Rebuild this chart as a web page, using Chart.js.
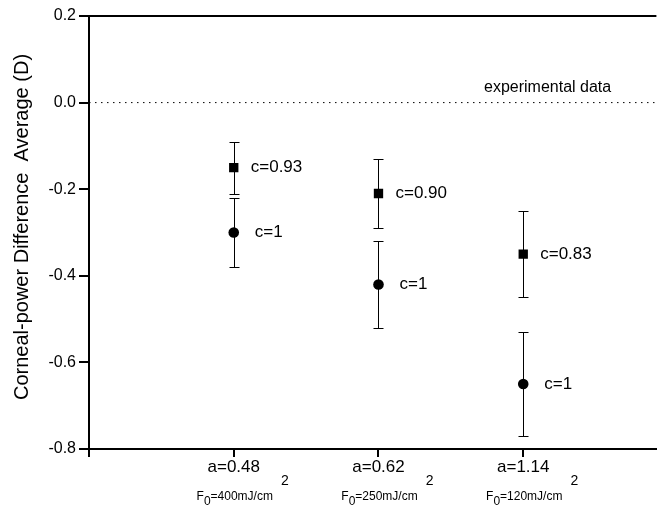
<!DOCTYPE html>
<html>
<head>
<meta charset="utf-8">
<script src="https://cdn.jsdelivr.net/npm/chart.js@4/dist/chart.umd.min.js"></script>
<style>
  html, body { margin: 0; padding: 0; background: #fff; }
  #wrap { width: 663px; height: 507px; position: relative; }
</style>
</head>
<body>
<div id="wrap"><canvas id="c" width="663" height="507"></canvas></div>
<script>
// ---- data ----
const categoryX = [1, 2, 3];
const topLabels = ['a=0.48', 'a=0.62', 'a=1.14'];
const fluenceValues = ['400', '250', '120'];
const squareValues = [-0.15, -0.21, -0.35];
const squareErrors = [0.06, 0.08, 0.10];
const squareLabels = ['c=0.93', 'c=0.90', 'c=0.83'];
const circleValues = [-0.30, -0.42, -0.65];
const circleErrors = [0.08, 0.10, 0.12];
const circleLabels = ['c=1', 'c=1', 'c=1'];
const referenceLineY = 0;
const referenceLabel = 'experimental data';
const yTitle = 'Corneal-power Difference  Average (D)';
const yMin = -0.8, yMax = 0.2, yStep = 0.2;
const xMin = 0, xMax = 3.92;

const FONT = '"Liberation Sans", Arial, Helvetica, sans-serif';

const squarePts = categoryX.map((x, i) => ({x, y: squareValues[i]}));
const circlePts = categoryX.map((x, i) => ({x, y: circleValues[i]}));

const decorPlugin = {
  id: 'decor',
  afterDatasetsDraw(chart) {
    const {ctx, chartArea, scales: {x, y}} = chart;
    ctx.save();
    // top frame line
    ctx.strokeStyle = '#000';
    ctx.lineWidth = 2;
    ctx.beginPath();
    ctx.moveTo(chartArea.left - 1, chartArea.top);
    ctx.lineTo(chartArea.right, chartArea.top);
    ctx.stroke();

    // error bars
    ctx.lineWidth = 1;
    const drawErr = (vals, errs) => {
      vals.forEach((v, i) => {
        const px = Math.round(x.getPixelForValue(categoryX[i])) + 0.5;
        const yt = Math.round(y.getPixelForValue(v + errs[i])) + 0.5;
        const yb = Math.round(y.getPixelForValue(v - errs[i])) + 0.5;
        ctx.beginPath();
        ctx.moveTo(px, yt); ctx.lineTo(px, yb);
        ctx.moveTo(px - 5, yt); ctx.lineTo(px + 5, yt);
        ctx.moveTo(px - 5, yb); ctx.lineTo(px + 5, yb);
        ctx.stroke();
      });
    };
    drawErr(squareValues, squareErrors);
    drawErr(circleValues, circleErrors);

    // point labels
    ctx.fillStyle = '#000';
    ctx.font = '17px ' + FONT;
    ctx.textBaseline = 'middle';
    ctx.textAlign = 'left';
    squareValues.forEach((v, i) => {
      ctx.fillText(squareLabels[i], x.getPixelForValue(categoryX[i]) + 17, y.getPixelForValue(v));
    });
    circleValues.forEach((v, i) => {
      ctx.fillText(circleLabels[i], x.getPixelForValue(categoryX[i]) + 21, y.getPixelForValue(v));
    });

    // reference label
    ctx.font = '16px ' + FONT;
    ctx.textBaseline = 'alphabetic';
    ctx.fillText(referenceLabel, 484, y.getPixelForValue(referenceLineY) - 11);

    // y title
    ctx.save();
    ctx.font = '20px ' + FONT;
    ctx.textAlign = 'center';
    ctx.textBaseline = 'middle';
    ctx.translate(22, 227);
    ctx.rotate(-Math.PI / 2);
    ctx.fillText(yTitle, 0, 0);
    ctx.restore();

    // second line of category labels: F0=...mJ/cm2
    categoryX.forEach((cx, i) => {
      const px = x.getPixelForValue(cx);
      const base = 500;
      const mainF = '12px ' + FONT;
      const pieces = [
        {t: 'F', f: mainF, dy: 0},
        {t: '0', f: mainF, dy: 5},
        {t: '=' + fluenceValues[i] + 'mJ/cm', f: mainF, dy: 0},
      ];
      let total = 0;
      pieces.forEach(p => { ctx.font = p.f; p.w = ctx.measureText(p.t).width; total += p.w; });
      let cur = px - total / 2 + 1;
      ctx.textAlign = 'left';
      pieces.forEach(p => {
        ctx.font = p.f;
        ctx.fillText(p.t, cur, base + p.dy);
        cur += p.w;
      });
      ctx.font = '14px ' + FONT;
      ctx.fillText('2', cur + 8, base - 15);
    });
    ctx.restore();
  }
};

new Chart(document.getElementById('c'), {
  type: 'scatter',
  data: {
    datasets: [
      {
        type: 'line',
        data: [{x: xMin, y: referenceLineY}, {x: xMax, y: referenceLineY}],
        borderColor: '#000',
        borderWidth: 1,
        borderDash: [1.5, 4.5],
        pointRadius: 0,
        fill: false
      },
      {
        data: squarePts,
        pointStyle: 'rect',
        pointRadius: 6.6,
        backgroundColor: '#000',
        borderColor: '#000',
        borderWidth: 0
      },
      {
        data: circlePts,
        pointStyle: 'circle',
        pointRadius: 5.3,
        backgroundColor: '#000',
        borderColor: '#000',
        borderWidth: 0
      }
    ]
  },
  plugins: [decorPlugin],
  options: {
    responsive: false,
    animation: false,
    devicePixelRatio: 1,
    layout: { padding: { top: 16, right: 0, left: 0, bottom: 0 } },
    plugins: { legend: { display: false }, tooltip: { enabled: false } },
    scales: {
      x: {
        type: 'linear',
        min: xMin, max: xMax,
        afterFit(scale) { scale.height = 58; },
        afterBuildTicks(scale) { scale.ticks = [0, 1, 2, 3].map(v => ({value: v})); },
        ticks: {
          color: '#000',
          font: { family: FONT, size: 17 },
          padding: 0,
          autoSkip: false,
          maxRotation: 0,
          callback: (v) => { const i = categoryX.indexOf(v); return i >= 0 ? topLabels[i] : ''; }
        },
        grid: { drawOnChartArea: false, drawTicks: true, tickLength: 8, color: '#000', lineWidth: 2 },
        border: { display: true, color: '#000', width: 2 }
      },
      y: {
        min: yMin, max: yMax,
        afterFit(scale) { scale.width = 89; },
        ticks: {
          stepSize: yStep,
          color: '#000',
          font: { family: FONT, size: 16 },
          padding: 3,
          callback: (v) => (Math.abs(v) < 1e-9 ? 0 : v).toFixed(1)
        },
        grid: { drawOnChartArea: false, drawTicks: true, tickLength: 10, color: '#000', lineWidth: 2 },
        border: { display: true, color: '#000', width: 2 },
        title: { display: false }
      }
    }
  }
});
</script>
</body>
</html>
